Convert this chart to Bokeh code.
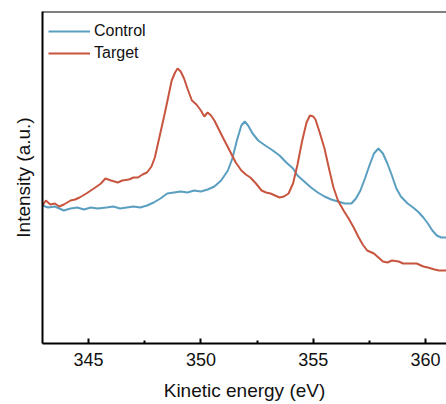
from bokeh.plotting import figure
from bokeh.models import FixedTicker, Range1d, Span
from bokeh.embed import file_html
from bokeh.resources import INLINE

# ---- data ----
control_energy = [342.95, 343.2, 343.5, 343.9, 344.2, 344.5, 344.8, 345.1, 345.4, 345.8,
                  346.1, 346.4, 346.7, 347.0, 347.3, 347.6, 347.9, 348.2, 348.5, 348.8,
                  349.1, 349.4, 349.7, 350.0, 350.3, 350.6, 350.9, 351.2, 351.4, 351.6,
                  351.8, 351.95, 352.1, 352.3, 352.55, 352.8, 353.0, 353.2, 353.5, 353.8,
                  354.1, 354.3, 354.6, 354.9, 355.2, 355.5, 355.8, 356.1, 356.4, 356.7,
                  356.9, 357.1, 357.3, 357.5, 357.7, 357.9, 358.1, 358.3, 358.5, 358.7,
                  358.9, 359.2, 359.5, 359.7, 359.9, 360.1, 360.3, 360.5, 360.7, 360.95]
control_intensity = [138, 136, 137, 133, 135, 136, 134, 136, 135, 136,
                     137, 135, 136, 137, 136, 138, 141, 145, 150, 151,
                     152, 151, 153, 152, 154, 157, 163, 173, 185, 203,
                     218, 222, 218, 210, 203, 199, 196, 193, 188, 181,
                     175, 168, 162, 156, 151, 147, 144, 142, 140, 140,
                     145, 153, 165, 178, 190, 195, 190, 180, 168, 155,
                     147, 140, 135, 131, 126, 120, 113, 108, 106, 106]

target_energy = [342.95, 343.1, 343.3, 343.5, 343.7, 343.9, 344.2, 344.4, 344.6, 344.9,
                 345.1, 345.3, 345.55, 345.75, 346.0, 346.3, 346.5, 346.8, 347.0, 347.2,
                 347.4, 347.6, 347.8, 347.95, 348.1, 348.25, 348.4, 348.55, 348.7, 348.85,
                 348.96, 349.1, 349.25, 349.4, 349.6, 349.8, 350.0, 350.15, 350.3, 350.45,
                 350.6, 350.8, 351.0, 351.3, 351.55, 351.8, 352.0, 352.2, 352.45, 352.7,
                 352.9, 353.1, 353.3, 353.5, 353.7, 353.9, 354.1, 354.3, 354.5, 354.7,
                 354.85, 355.0, 355.1, 355.3, 355.5, 355.7, 355.9, 356.1, 356.35, 356.6,
                 356.8, 357.0, 357.2, 357.4, 357.7, 357.9, 358.1, 358.3, 358.5, 358.8,
                 359.0, 359.3, 359.6, 359.9, 360.1, 360.4, 360.6, 360.95]
target_intensity = [138, 143, 139, 140, 137, 139, 143, 144, 146, 150,
                    153, 156, 160, 165, 163, 161, 163, 164, 166, 166,
                    169, 171, 177, 186, 201, 216, 231, 247, 263, 271,
                    275, 272, 265, 255, 243, 239, 233, 227, 231, 228,
                    223, 214, 205, 192, 181, 173, 169, 166, 160, 153,
                    151, 150, 148, 146, 147, 150, 160, 179, 202, 221,
                    228, 227, 224, 210, 195, 175, 156, 143, 133, 124,
                    116, 107, 99, 93, 90, 86, 82, 81, 83, 82,
                    80, 80, 80, 77, 76, 74, 73, 73]

major_ticks = [345, 350, 355, 360]
minor_ticks = [347.5, 352.5, 357.5]

series_names = ["Control", "Target"]
series_colors = ["#5A9EC0", "#C8553F"]

FONT = "Liberation Sans"
Y_MAX = 332

p = figure(width=446, height=404, output_backend="svg", toolbar_location=None,
           x_range=Range1d(342.95, 360.93), y_range=Range1d(0, Y_MAX),
           min_border_left=42, min_border_right=0, min_border_top=11,
           min_border_bottom=61)
p.outline_line_color = None
p.xgrid.visible = False
p.ygrid.visible = False
p.background_fill_color = "white"
p.border_fill_color = "white"

p.line(control_energy, control_intensity, line_color=series_colors[0], line_width=2,
       legend_label=series_names[0])
p.line(target_energy, target_intensity, line_color=series_colors[1], line_width=2,
       legend_label=series_names[1])

# bottom axis
xa = p.xaxis[0]
xa.ticker = FixedTicker(ticks=major_ticks, minor_ticks=minor_ticks)
xa.axis_line_width = 2
xa.axis_line_color = "black"
xa.major_tick_in = 5
xa.major_tick_out = 0
xa.minor_tick_in = 3
xa.minor_tick_out = 0
xa.major_tick_line_width = 2
xa.minor_tick_line_width = 2
xa.major_label_text_font = FONT
xa.major_label_text_font_size = "18px"
xa.major_label_text_color = "#111111"
xa.major_label_standoff = 9
xa.axis_label = "Kinetic energy (eV)"
xa.axis_label_text_font = FONT
xa.axis_label_text_font_size = "19px"
xa.axis_label_text_font_style = "normal"
xa.axis_label_text_color = "#111111"
xa.axis_label_standoff = 11

# left axis
ya = p.yaxis[0]
ya.ticker = FixedTicker(ticks=[])
ya.axis_line_width = 2
ya.axis_line_color = "black"
ya.major_tick_line_color = None
ya.minor_tick_line_color = None
ya.major_label_standoff = 0
ya.major_label_text_font_size = "0px"
ya.axis_label = "Intensity (a.u.)"
ya.axis_label_text_font = FONT
ya.axis_label_text_font_size = "19px"
ya.axis_label_text_font_style = "normal"
ya.axis_label_text_color = "#111111"
ya.axis_label_standoff = 9

# top border line
p.add_layout(Span(location=Y_MAX, dimension="width", line_color="black", line_width=2))

lg = p.legend[0]
lg.location = (6, 280)
lg.margin = 0
lg.padding = 8
lg.spacing = 2
lg.glyph_width = 42
lg.glyph_height = 20
lg.label_height = 20
lg.label_standoff = 4
lg.label_text_font = FONT
lg.label_text_font_size = "16px"
lg.label_text_color = "#111111"
lg.border_line_color = None
lg.background_fill_alpha = 0

open("out.html", "w").write(file_html(p, INLINE))
